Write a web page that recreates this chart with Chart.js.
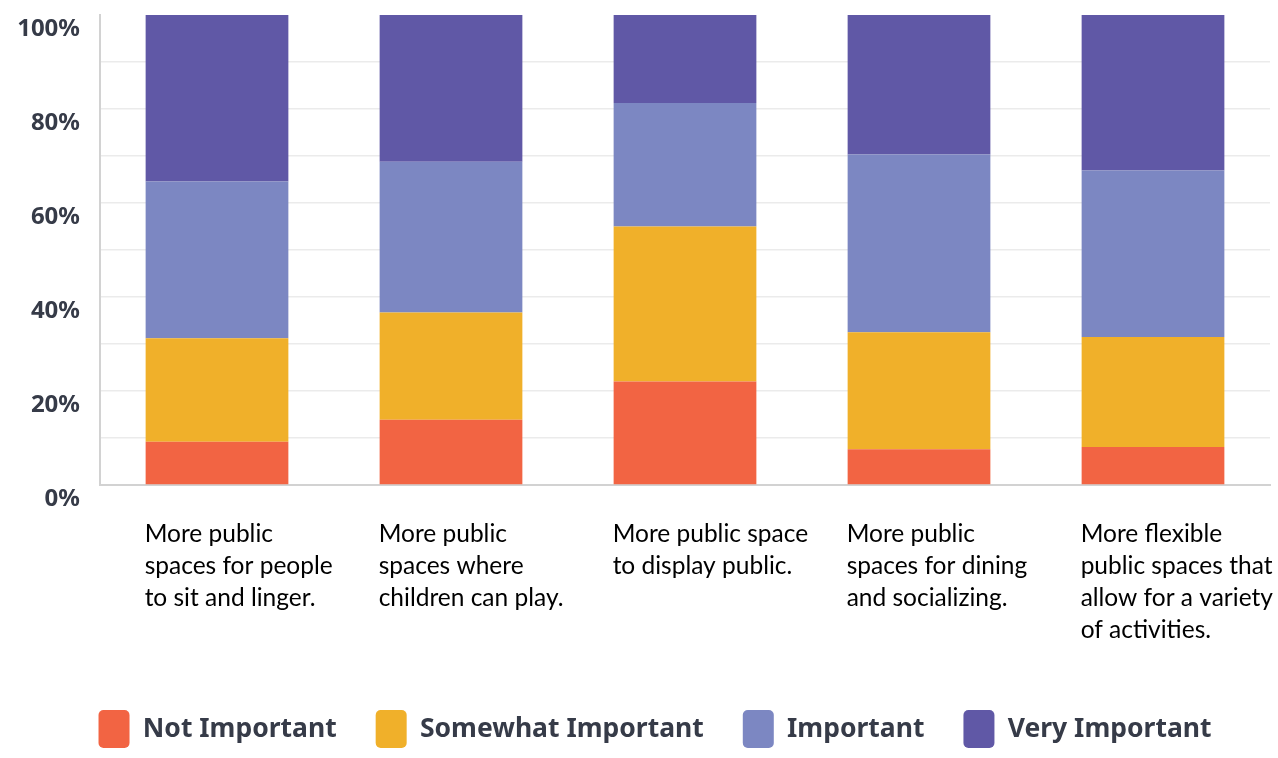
<!DOCTYPE html>
<html>
<head>
<meta charset="utf-8">
<title>Public space priorities</title>
<script src="https://cdn.jsdelivr.net/npm/chart.js@4.4.1/dist/chart.umd.min.js"></script>
<style>
    html, body { margin: 0; padding: 0; background: #fff; }
    #wrap { width: 1278px; height: 758px; }
</style>
</head>
<body>
<div id="wrap"><canvas id="myChart" width="1278" height="758"></canvas></div>
<script>
// cau hoi (cac nhom)
const categories = [
    ['More public', 'spaces for people', 'to sit and linger.'],
    ['More public', 'spaces where', 'children can play.'],
    ['More public space', 'to display public.'],
    ['More public', 'spaces for dining', 'and socializing.'],
    ['More flexible', 'public spaces that', 'allow for a variety', 'of activities.']
]

// ty le % moi muc do
const notImportant = [9.2, 13.9, 22.0, 7.6, 8.1]
const somewhatImportant = [22.0, 22.8, 33.0, 24.9, 23.4]
const important = [33.4, 32.1, 26.3, 37.8, 35.4]
const veryImportant = [35.4, 31.2, 18.7, 29.7, 33.1]

const seriesNames = ['Not Important', 'Somewhat Important', 'Important', 'Very Important']
const seriesColors = ['#f26443', '#f0b02a', '#7c87c2', '#6058a6']

// nhan truc y: chi hien moi 20%
const yTickLabels = ['0%', '20%', '40%', '60%', '80%', '100%']

// ve nhan duoi moi cot, canh trai theo mep cot
const categoryLabels = {
    id: 'categoryLabels',
    afterDraw(chart) {
        const ctx = chart.ctx
        const meta = chart.getDatasetMeta(0)
        const top = chart.chartArea.bottom + 57
        ctx.save()
        ctx.font = '24.5px Lato'
        ctx.fillStyle = '#000'
        ctx.textAlign = 'left'
        ctx.textBaseline = 'alphabetic'
        meta.data.forEach((bar, i) => {
            const left = bar.x - bar.width / 2 - 1
            categories[i].forEach((line, j) => {
                ctx.fillText(line, left, top + j * 32)
            })
        })
        ctx.restore()
    }
}

// day chu thich sang phai mot chut
const legendShift = {
    id: 'legendShift',
    afterLayout(chart) {
        chart.legend.left += 19
        chart.legend.right += 19
    }
}

const values = [notImportant, somewhatImportant, important, veryImportant]
const datasets = values.map((d, i) => ({
    label: seriesNames[i],
    data: d,
    backgroundColor: seriesColors[i],
    borderWidth: 0,
    barPercentage: 0.61,
    categoryPercentage: 1
}))

const ctx = document.getElementById('myChart').getContext('2d')
const myChart = new Chart(ctx, {
    type: 'bar',
    data: {
        labels: categories.map(c => c.join(' ')),
        datasets: datasets
    },
    options: {
        responsive: false,
        animation: false,
        layout: {
            padding: { top: 15, left: 2, right: 8, bottom: 0 }
        },
        plugins: {
            tooltip: { enabled: false },
            legend: {
                position: 'bottom',
                labels: {
                    boxWidth: 31,
                    boxHeight: 38,
                    useBorderRadius: true,
                    borderRadius: 5,
                    padding: 39,
                    color: '#363b48',
                    font: { family: 'Noto Sans', size: 26.5, weight: 'bold' }
                }
            }
        },
        scales: {
            x: {
                stacked: true,
                grid: { display: false },
                border: { color: '#d2d2d2', width: 2 },
                ticks: { display: false },
                afterFit: (scale) => { scale.height = 186 }
            },
            y: {
                stacked: true,
                min: 0,
                max: 100,
                border: { color: '#d2d2d2', width: 2 },
                grid: {
                    drawTicks: false,
                    color: (c) => c.tick.value === 100 ? 'rgba(0,0,0,0)' : '#ebebeb',
                    lineWidth: 1.5
                },
                ticks: {
                    stepSize: 10,
                    autoSkip: false,
                    padding: 20,
                    color: '#363b48',
                    font: { family: 'Noto Sans', size: 24, weight: 'bold', lineHeight: 1.2 },
                    // dich nhan xuong duoi vach mot chut
                    callback: (v) => v % 20 === 0 ? ['', yTickLabels[v / 20]] : ''
                },
                afterFit: (scale) => {
                    scale.width = 98
                    scale.paddingTop = 0
                    scale.paddingBottom = 0
                }
            }
        }
    },
    plugins: [categoryLabels, legendShift]
})
</script>
</body>
</html>
